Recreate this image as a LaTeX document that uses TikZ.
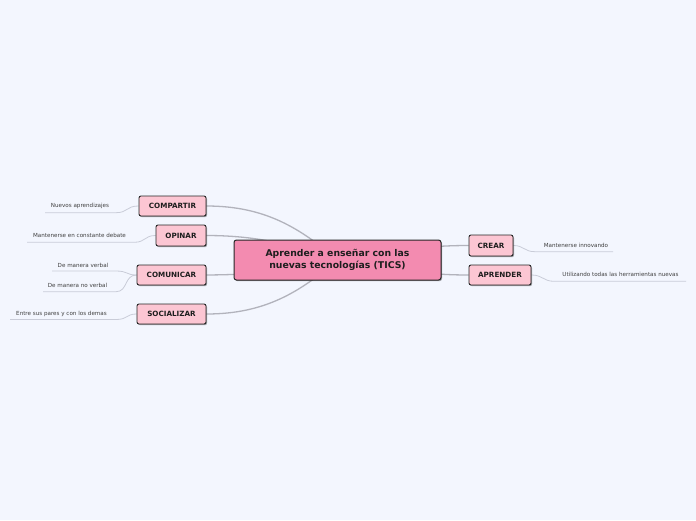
\documentclass[tikz,border=0pt]{standalone}
\usepackage{fontspec}
\setmainfont{DejaVu Sans}
\usetikzlibrary{shadows}
\pgfdeclarelayer{bg}
\pgfdeclarelayer{links}
\pgfsetlayers{bg,links,main}
\definecolor{bgcol}{HTML}{F3F6FE}
\definecolor{rootfill}{HTML}{F38BB0}
\definecolor{childfill}{HTML}{FCC6D3}
\definecolor{mainlink}{HTML}{B2B3BC}
\definecolor{leaflink}{HTML}{C9CCD8}
\definecolor{txt}{HTML}{1E1E1E}
\tikzset{
  rootbox/.style={draw=black!85, line width=1pt, rounded corners=2.5pt, fill=rootfill,
    minimum width=207pt, minimum height=40pt, inner sep=0pt, align=center,
    font=\bfseries\fontsize{9.3}{12}\selectfont, text=txt,
    drop shadow={shadow xshift=1pt, shadow yshift=-1.2pt, fill=black, opacity=0.35}},
  childbox/.style={draw=black!85, line width=0.9pt, rounded corners=2pt, fill=childfill,
    minimum height=20pt, inner sep=0pt,
    font=\bfseries\fontsize{7.2}{8}\selectfont, text=txt,
    drop shadow={shadow xshift=1pt, shadow yshift=-1.2pt, fill=black, opacity=0.35}},
  leaftext/.style={inner sep=0pt, font=\fontsize{5.6}{6.5}\selectfont, text=txt!85},
  mainconn/.style={draw=mainlink, line width=1.3pt},
  leafconn/.style={draw=leaflink, line width=0.8pt}
}
\begin{document}
\begin{tikzpicture}[x=1pt,y=-1pt]
\useasboundingbox (0,0) rectangle (696,520);
\begin{pgfonlayer}{bg}
\fill[bgcol] (0,0) rectangle (696,520);
\end{pgfonlayer}

% main nodes
\node[rootbox] (root) at (337.5,260) {Aprender a enseñar con las\\nuevas tecnologías (TICS)};
\node[childbox, minimum width=67pt] (compartir) at (172.5,206) {COMPARTIR};
\node[childbox, minimum width=50pt, minimum height=21pt] (opinar) at (181,235.5) {OPINAR};
\node[childbox, minimum width=69pt] (comunicar) at (171.5,275) {COMUNICAR};
\node[childbox, minimum width=69pt] (socializar) at (171.5,314) {SOCIALIZAR};
\node[childbox, minimum width=44pt, minimum height=21pt] (crear) at (491,245.5) {CREAR};
\node[childbox, minimum width=62pt] (aprender) at (500,275) {APRENDER};

% leaf texts
\node[leaftext] (l1) at (80,205.7) {Nuevos aprendizajes};
\node[leaftext] (l2) at (79.5,235.8) {Mantenerse en constante debate};
\node[leaftext] (l3) at (83,265.3) {De manera verbal};
\node[leaftext] (l4) at (77.5,285) {De manera no verbal};
\node[leaftext] (l5) at (61.5,314.3) {Entre sus pares y con los demas};
\node[leaftext] (r1) at (576,245) {Mantenerse innovando};
\node[leaftext] (r2) at (620.5,274.8) {Utilizando todas las herramientas nuevas};

% underline end points
\coordinate (l1a) at (45,212.7);  \coordinate (l1b) at (116,212.7);
\coordinate (l2a) at (27,242.3);  \coordinate (l2b) at (134,242.3);
\coordinate (l3a) at (52,271);    \coordinate (l3b) at (116,271);
\coordinate (l4a) at (43,291.7);  \coordinate (l4b) at (116,291.7);
\coordinate (l5a) at (10,319.5);  \coordinate (l5b) at (116,319.5);
\coordinate (r1a) at (535,251.7); \coordinate (r1b) at (613,251.7);
\coordinate (r2a) at (554,281.3); \coordinate (r2b) at (686,281.3);

\begin{pgfonlayer}{links}
\draw[mainconn] (compartir.east) .. controls (265,206) and (300,228) .. (root.center);
\draw[mainconn] (opinar.east) .. controls (265,235.5) and (300,248) .. (root.center);
\draw[mainconn] (comunicar.east) .. controls (265,274.5) and (300,270) .. (root.center);
\draw[mainconn] (socializar.east) .. controls (265,314) and (300,292) .. (root.center);
\draw[mainconn] (crear.west) .. controls (420,245.5) and (390,252) .. (root.center);
\draw[mainconn] (aprender.west) .. controls (420,275) and (390,268) .. (root.center);

\draw[leafconn] (l1a) -- (l1b) .. controls (128,212.7) and (126,206) .. (compartir.west);
\draw[leafconn] (l2a) -- (l2b) .. controls (146,242.3) and (144,235.5) .. (opinar.west);
\draw[leafconn] (l3a) -- (l3b) .. controls (128,271) and (126,275) .. (comunicar.west);
\draw[leafconn] (l4a) -- (l4b) .. controls (128,291.7) and (124,275) .. (comunicar.west);
\draw[leafconn] (l5a) -- (l5b) .. controls (128,319.5) and (126,314) .. (socializar.west);
\draw[leafconn] (crear.east) .. controls (524,245.5) and (524,251.7) .. (r1a) -- (r1b);
\draw[leafconn] (aprender.east) .. controls (543,275) and (543,281.3) .. (r2a) -- (r2b);
\end{pgfonlayer}
\end{tikzpicture}
\end{document}
